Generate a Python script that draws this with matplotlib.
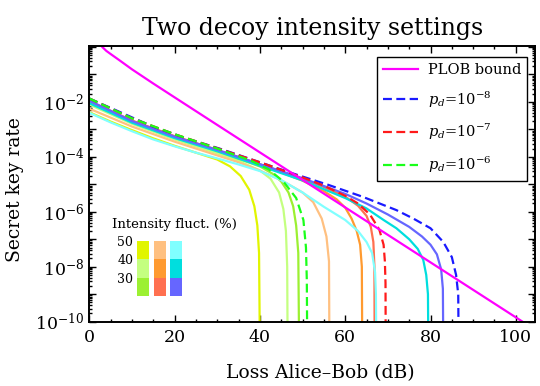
import numpy as np
import matplotlib
matplotlib.use("Agg")
import matplotlib.pyplot as plt
from matplotlib.ticker import FixedLocator, NullFormatter, FuncFormatter

plt.rcParams["font.family"] = "DejaVu Serif"
plt.rcParams["mathtext.fontset"] = "dejavuserif"

# ---- data (loss in dB, log10 of key rate) ----
plob_loss = [2.5, 3, 4, 5, 7, 10, 15, 20, 30, 40, 50, 60, 70, 80, 90, 100, 104.5]
plob_rate = [1.6, 1.0, 0.71, 0.548, 0.33, 0.152, 0.0462, 0.0145, 1.44e-3, 1.44e-4,
             1.44e-5, 1.44e-6, 1.44e-7, 1.44e-8, 1.44e-9, 1.44e-10, 5.1e-11]

# p_d = 1e-8 family
pd8_loss = [0, 7, 15, 22.7, 30.5, 40, 47, 56, 64, 72, 76, 80, 83, 85, 86, 86.5, 86.6]
pd8_log = [-1.88, -2.36, -2.91, -3.33, -3.70, -4.2, -4.57, -5.02, -5.45, -5.94, -6.25,
           -6.6, -7.1, -7.65, -8.3, -9.0, -11]
violet_loss = [0, 10, 20, 30, 40, 50, 60, 65, 70, 75, 78, 80, 81.5, 82.5, 82.9, 83.0]
violet_log = [-1.96, -2.7, -3.27, -3.75, -4.27, -4.78, -5.35, -5.7, -6.1, -6.55, -6.9,
              -7.2, -7.55, -8.1, -8.8, -11]
cyan_loss = [0, 10, 20, 30, 40, 50, 60, 65, 69, 72, 75, 77, 78.3, 79, 79.4, 79.5]
cyan_log = [-2.05, -2.76, -3.32, -3.8, -4.33, -4.86, -5.5, -5.88, -6.3, -6.6, -7.0,
            -7.35, -7.75, -8.3, -9.0, -11]
lcyan_loss = [0, 5, 10, 15, 20, 25, 30, 35, 40, 45, 50, 55, 60, 63, 65, 66.3, 67, 67.2, 67.3]
lcyan_log = [-2.4, -2.75, -3.07, -3.37, -3.62, -3.85, -4.06, -4.28, -4.52, -4.85, -5.3,
             -5.82, -6.3, -6.7, -7.1, -7.5, -8.2, -9.0, -11]

# p_d = 1e-7 family
pd7_loss = [0, 10, 20, 30, 40, 50, 55, 60, 63, 65.8, 68, 69, 69.3, 69.45, 69.5]
pd7_log = [-1.88, -2.6, -3.18, -3.69, -4.2, -4.75, -5.05, -5.42, -5.7, -6.1, -6.65,
           -7.2, -7.8, -8.6, -11]
redor_loss = [0, 10, 20, 30, 40, 50, 55, 60, 63, 65, 66, 66.6, 66.85, 66.9]
redor_log = [-1.97, -2.68, -3.25, -3.75, -4.27, -4.8, -5.1, -5.45, -5.78, -6.15, -6.55,
             -7.1, -8.0, -11]
orange_loss = [0, 10, 20, 30, 40, 45, 50, 55, 58, 60, 61.5, 62.7, 63.5, 63.9, 64.0]
orange_log = [-2.0, -2.7, -3.27, -3.77, -4.3, -4.57, -4.87, -5.25, -5.55, -5.85, -6.25,
              -6.7, -7.2, -8.0, -11]
lorange_loss = [0, 10, 20, 30, 35, 40, 45, 50, 52.5, 54.5, 55.6, 56.2, 56.3]
lorange_log = [-2.25, -2.9, -3.45, -3.95, -4.2, -4.5, -4.85, -5.3, -5.65, -6.25, -6.9,
               -7.8, -11]

# p_d = 1e-6 family
pd6_loss = [0, 10, 20, 30, 38, 42, 45.5, 48.5, 50.2, 50.8, 51.0, 51.1]
pd6_log = [-1.88, -2.6, -3.18, -3.7, -4.15, -4.45, -4.9, -5.5, -6.3, -7.3, -8.5, -11]
green_loss = [0, 10, 20, 30, 40, 43, 45, 46.7, 47.8, 48.5, 49.0, 49.2]
green_log = [-2.0, -2.72, -3.28, -3.8, -4.35, -4.62, -4.9, -5.3, -5.8, -6.5, -7.5, -11]
lgreen_loss = [0, 10, 20, 30, 35, 40, 42.5, 44.5, 45.5, 46.1, 46.4, 46.5]
lgreen_log = [-2.1, -2.8, -3.37, -3.88, -4.15, -4.5, -4.8, -5.3, -5.9, -6.7, -8.0, -11]
yellow_loss = [0, 5, 10, 15, 20, 25, 30, 33, 35.5, 37.5, 38.7, 39.4, 39.8, 40.0]
yellow_log = [-2.38, -2.72, -3.03, -3.33, -3.6, -3.85, -4.1, -4.35, -4.7, -5.2, -5.8,
              -6.5, -7.5, -11]

# intensity-fluctuation key (rows 30/40/50 %, one column per p_d)
fluct_levels = [30, 40, 50]
key_cols = [["#9cf032", "#c4ff80", "#e1f500"],
            ["#ff7050", "#ff9a30", "#ffc080"],
            ["#6666ff", "#00dede", "#80ffff"]]

solid = [
    (yellow_loss, yellow_log, "#e1f500"),
    (lgreen_loss, lgreen_log, "#c4ff80"),
    (green_loss, green_log, "#9cf032"),
    (lorange_loss, lorange_log, "#ffc080"),
    (orange_loss, orange_log, "#ff9a30"),
    (redor_loss, redor_log, "#ff7050"),
    (lcyan_loss, lcyan_log, "#80ffff"),
    (cyan_loss, cyan_log, "#00dede"),
    (violet_loss, violet_log, "#6666ff"),
]
dashed = [
    (pd8_loss, pd8_log, "#1a1aff", r"$p_d$=10$^{-8}$"),
    (pd7_loss, pd7_log, "#ff1a1a", r"$p_d$=10$^{-7}$"),
    (pd6_loss, pd6_log, "#1aff1a", r"$p_d$=10$^{-6}$"),
]

fig = plt.figure(figsize=(5.4, 3.86), dpi=100)
ax = fig.add_axes([89.3 / 540, 1 - 321.7 / 386, 445.7 / 540, 275.7 / 386])

for x, lg, c in solid:
    ax.plot(x, 10.0 ** np.array(lg), color=c, lw=1.6)
hd = []
for x, lg, c, lab in dashed:
    h, = ax.plot(x, 10.0 ** np.array(lg), color=c, lw=1.6, dashes=(4, 2), label=lab)
    hd.append(h)
hp, = ax.plot(plob_loss, plob_rate, color="#ff00ff", lw=1.6, label="PLOB bound")

ax.set_yscale("log")
ax.set_xlim(0, 104.5)
ax.set_ylim(1e-10, 10 ** 0.03)

ax.xaxis.set_major_locator(FixedLocator([0, 20, 40, 60, 80, 100]))
ax.xaxis.set_minor_locator(FixedLocator(np.arange(0, 105, 5)))
ax.yaxis.set_major_locator(FixedLocator([10.0 ** e for e in range(-10, 1)]))
ax.yaxis.set_minor_locator(FixedLocator([m * 10.0 ** e for e in range(-10, 0) for m in range(2, 10)]))
ax.yaxis.set_major_formatter(FuncFormatter(
    lambda v, p: (r"$10^{%d}$" % round(np.log10(v))) if round(np.log10(v)) % 2 == 0 and v < 0.5 else ""))
ax.yaxis.set_minor_formatter(NullFormatter())
ax.tick_params(which="both", direction="in", top=True, right=True, labelsize=12.5, width=1)
ax.tick_params(axis="x", pad=5)
ax.tick_params(which="major", length=5)
ax.tick_params(which="minor", length=2.5)
for s in ax.spines.values():
    s.set_linewidth(1.4)

ax.set_xlabel("Loss Alice–Bob (dB)", fontsize=13.5)
ax.xaxis.set_label_coords((320 - 89.3) / 445.7, -(373 - 321.7) / 275.7)
ax.xaxis.label.set_va("center")
ax.set_ylabel("Secret key rate", fontsize=13.5)
ax.yaxis.set_label_coords(-(89.3 - 15) / 445.7, (321.7 - 189.5) / 275.7)
ax.yaxis.label.set_va("center")
ax.set_title("Two decoy intensity settings", fontsize=17, pad=8)

leg = ax.legend(handles=[hp] + hd, loc="upper right", bbox_to_anchor=(0.982, 0.960),
                borderaxespad=0, fancybox=False, edgecolor="black", framealpha=1,
                fontsize=10.5, labelspacing=0.85, handlelength=2.4, handletextpad=0.7,
                borderpad=0.4)
leg.get_frame().set_linewidth(1.0)

fig.text(112 / 540, 1 - 225 / 386, "Intensity fluct. (%)", fontsize=9.5, va="center", ha="left")
kax = fig.add_axes([137.3 / 540, 1 - 296 / 386, 45 / 540, 55 / 386])
for i, cols in enumerate(key_cols):
    for j, lev in enumerate(fluct_levels):
        kax.bar(i, 10, bottom=lev - 10, width=0.72, color=cols[j], edgecolor="none")
kax.set_xlim(-0.36, 2.36)
kax.set_ylim(20, 50)
kax.set_yticks(fluct_levels)
kax.set_yticklabels([str(v) for v in fluct_levels])
kax.set_xticks([])
kax.tick_params(axis="y", length=0, pad=3, labelsize=9)
kax.patch.set_alpha(0)
for s in kax.spines.values():
    s.set_visible(False)

fig.savefig("out.png", dpi=100)
